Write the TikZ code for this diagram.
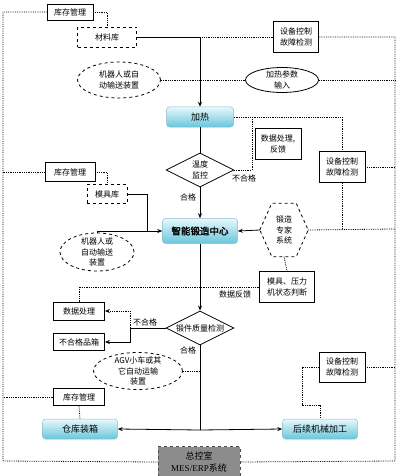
\documentclass[tikz,border=0pt]{standalone}
\usepackage{fontspec}
\newfontfamily\cjk[AutoFakeBold=2]{Noto Sans CJK SC}
\newfontfamily\tnr{Liberation Serif}
\usetikzlibrary{shapes.geometric,arrows.meta}
\definecolor{cyTop}{RGB}{232,247,251}
\definecolor{cyBot}{RGB}{105,198,219}
\definecolor{cyEdge}{RGB}{140,190,205}
\definecolor{mesgray}{RGB}{140,140,140}
\begin{document}
\begin{tikzpicture}[x=1pt,y=-1pt,
  every node/.style={font=\cjk\fontsize{8}{10.5}\selectfont, inner sep=0pt, align=center},
  sbox/.style={draw, line width=0.8pt},
  dbox/.style={draw, dashed, line width=0.8pt},
  cbox/.style={draw=cyEdge, line width=0.5pt, rounded corners=3pt, top color=cyTop, bottom color=cyBot, font=\cjk\fontsize{9}{11}\selectfont},
  ell/.style={ellipse, draw, line width=0.8pt},
  dia/.style={diamond, draw, line width=0.8pt},
  sline/.style={line width=0.8pt},
  dline/.style={densely dotted, line width=0.8pt},
  arr/.style={-{Stealth[length=5pt,width=4pt]}},
  lab/.style={font=\cjk\fontsize{8}{10}\selectfont}
]
\useasboundingbox (0,0) rectangle (400,476);

% ---- nodes ----
\node[sbox, minimum width=46, minimum height=16] (inv1) at (70,12) {库存管理};
\node[dbox, minimum width=59, minimum height=20] (mat) at (107,37) {材料库};
\node[ell, dashed, minimum width=83, minimum height=36, label={center:机器人或自\\动输送装置}] (rob1) at (119,80) {};
\node[sbox, minimum width=45, minimum height=31] (dev1) at (296,37) {设备控制\\故障检测};
\node[ell, minimum width=73, minimum height=25, label={center:加热参数\\输入}] (heatp) at (282,80) {};
\node[cbox, minimum width=67, minimum height=20] (heat) at (200,117) {加热};
\node[sbox, minimum width=46, minimum height=31] (dp1) at (278,144) {数据处理,\\反馈};
\node[dia, minimum width=68, minimum height=34, label={center:温度\\监控}] (temp) at (200,170) {};
\node[sbox, minimum width=46, minimum height=31] (dev2) at (342,167) {设备控制\\故障检测};
\node[sbox, minimum width=50, minimum height=19] (inv2) at (70,172) {库存管理};
\node[dbox, minimum width=40, minimum height=19] (mold) at (107,194) {模具库};
\node[cbox, minimum width=75, minimum height=25, font=\cjk\bfseries\fontsize{9.5}{11}\selectfont] (fc) at (200,231) {智能锻造中心};
\node[minimum width=48, minimum height=53] (exp) at (284,230) {锻造\\专家\\系统};
\draw[dashed, line width=0.8pt] (exp.west) -- ([xshift=12pt]exp.north west) -- ([xshift=-12pt]exp.north east) -- (exp.east) -- ([xshift=-12pt]exp.south east) -- ([xshift=12pt]exp.south west) -- cycle;
\node[ell, dashed, minimum width=74, minimum height=38, label={center:机器人或\\自动输送\\装置}] (rob2) at (97,252) {};
\node[sbox, minimum width=55, minimum height=31] (mp) at (287,287) {模具、压力\\机状态判断};
\node[sbox, minimum width=51, minimum height=18] (dp2) at (79,311) {数据处理};
\node[dia, minimum width=68, minimum height=34, label={center:锻件质量检测}] (qual) at (200,328) {};
\node[sbox, minimum width=51, minimum height=17] (rej) at (79,342) {不合格品箱};
\node[ell, dashed, minimum width=89, minimum height=37, label={center:AGV小车或其\\它自动运输\\装置}] (agv) at (138,371) {};
\node[sbox, minimum width=46, minimum height=30] (dev3) at (342,367) {设备控制\\故障检测};
\node[sbox, minimum width=51, minimum height=17] (inv3) at (79,397) {库存管理};
\node[cbox, minimum width=75, minimum height=20] (wh) at (80,429) {仓库装箱};
\node[cbox, minimum width=75, minimum height=20] (post) at (320,429) {后续机械加工};
\node[draw=black!70, dashed, line width=0.8pt, fill=mesgray, minimum width=82, minimum height=31, font=\cjk\fontsize{9}{12}\selectfont] (mes) at (199,462) {总控室\\{\tnr MES/ERP}系统};

% ---- coordinates ----
\coordinate (c1) at (200,37);
\coordinate (jb) at (200,430);
\coordinate (jr) at (130,328);

% ---- solid connectors ----
\draw[sline, arr] (mat.east) -- (c1) -- (heat.north);
\draw[sline] (heat.south) -- (temp.north);
\draw[sline, arr] (temp.south) -- (fc.north);
\draw[sline, arr] (mold.east) -- (147,194) -- (147,231) -- (fc.west);
\draw[sline] (rob2.north) -- (97,231) -- (147,231);
\draw[sline, arr] (exp.west) -- (fc.east);
\draw[sline, arr] (fc.south) -- (qual.north);
\draw[sline] (qual.west) -- (jr);
\draw[sline, arr] (jr) |- (rej.east);
\draw[dline, arr] (jr) |- (dp2.east);
\draw[sline] (qual.south) -- (jb);
\draw[sline, arr] (jb) -- (wh.east);
\draw[sline, arr] (jb) -- (post.west);

% ---- dotted connectors ----
\draw[dline] (inv1.east) -| (mat.north);
\draw[dline] (inv1.west) -- (3,12) -- (3,461) -- (mes.west);
\draw[dline] (dev1.west) -- (c1);
\draw[dline] (dev1.east) -- (395,37) -- (395,461) -- (mes.east);
\draw[dline] (rob1.east) -- (200,80);
\draw[dline] (heatp.west) -- (200,80);
\draw[dline] (heatp.east) -- (395,80);
\draw[dline] (heat.east) -| (dev2.north);
\draw[dline] (252,117) |- (temp.east);
\draw[dline] (dev2.south) -- (342,229);
\draw[dline] (dev2.east) -- (395,167);
\draw[dline] (exp.east) -- (395,229);
\draw[dline] (exp.south) -- (mp.north);
\draw[dline] (mp.west) -| (dp2.north);
\draw[dline] (inv2.west) -- (3,172);
\draw[dline] (inv2.east) -| (mold.north);
\draw[dline] (agv.east) -- (200,371);
\draw[dline] (inv3.west) -- (3,397);
\draw[dline] (inv3.south) -- (wh.north);
\draw[dline] (dev3.west) -- (302,367) -- (302,405) -- (320,405) -- (post.north);
\draw[dline] (dev3.east) -- (395,367);

% ---- labels ----
\node[lab] (l1) at (188,197) {合格};
\node[lab] (l2) at (244,178) {不合格};
\node[lab] (l3) at (235,294) {数据反馈};
\node[lab] (l4) at (145,322) {不合格};
\node[lab] (l5) at (188,350) {合格};
\end{tikzpicture}
\end{document}
